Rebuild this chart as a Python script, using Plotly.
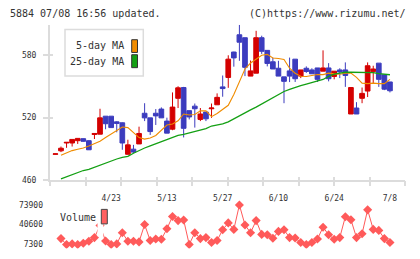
import plotly.graph_objects as go

# ---------------- data ----------------
days = list(range(61))
opens = [485.0, 488.3, 495.8, 495.8, 498.0, 499.9, 498.0, 503.9, 504.2, 521.4,
         521.4, 516.0, 515.1, 485.0, 489.9, 494.9, 524.2, 519.8, 524.2, 528.2,
         516.7, 509.0, 538.5, 548.8, 526.7, 531.0, 518.3, 525.4, 528.5, 532.3,
         549.4, 558.4, 582.7, 599.2, 596.4, 559.7, 562.5, 596.4, 584.3, 573.4,
         567.2, 559.0, 564.7, 575.9, 559.7, 567.2, 565.6, 567.5, 564.4, 567.5,
         559.4, 565.6, 565.6, 523.5, 529.2, 538.5, 545.4, 564.0, 572.1, 560.9,
         554.1]
highs = [485.6, 492.4, 496.4, 499.2, 500.2, 500.2, 498.5, 504.9, 528.5, 521.4,
         521.4, 516.5, 515.5, 498.9, 494.0, 511.4, 533.8, 519.8, 528.2, 529.8,
         520.0, 544.1, 550.0, 549.4, 526.7, 533.5, 529.2, 525.4, 533.5, 543.2,
         560.3, 579.6, 583.0, 608.6, 596.4, 574.6, 603.0, 598.3, 584.3, 577.4,
         574.3, 559.0, 577.4, 575.9, 565.6, 569.0, 567.2, 567.5, 584.3, 572.1,
         564.4, 567.2, 572.8, 548.8, 534.8, 548.8, 572.8, 569.6, 572.1, 560.9,
         554.1]
lows = [484.8, 487.1, 491.2, 492.4, 494.9, 497.0, 489.3, 499.6, 504.2, 508.9,
        510.5, 506.0, 489.3, 484.9, 486.2, 494.9, 516.7, 503.5, 513.0, 519.8,
        505.2, 508.0, 529.2, 501.1, 518.3, 510.5, 516.7, 516.7, 519.8, 532.3,
        540.0, 548.5, 568.7, 574.3, 559.7, 559.7, 562.5, 580.9, 569.0, 566.5,
        559.7, 533.8, 554.0, 554.1, 557.8, 562.8, 561.9, 554.1, 564.4, 554.7,
        556.6, 557.8, 549.4, 523.5, 523.5, 533.8, 539.7, 552.5, 549.4, 546.3,
        544.1]
closes = [485.4, 490.8, 496.4, 499.2, 500.2, 497.4, 489.3, 504.9, 519.8, 514.2,
          510.5, 514.5, 495.8, 494.0, 487.1, 504.9, 519.8, 506.7, 521.7, 519.8,
          505.2, 530.1, 548.5, 509.8, 520.7, 528.5, 523.5, 518.9, 529.2, 539.4,
          547.8, 575.9, 577.1, 592.1, 568.1, 564.7, 596.4, 583.4, 571.8, 566.5,
          559.7, 554.7, 559.7, 557.2, 565.6, 564.1, 561.9, 556.6, 567.5, 557.2,
          564.4, 563.7, 560.3, 548.8, 523.5, 543.2, 569.6, 566.5, 556.6, 547.2,
          545.7]

ma_days = list(range(1, 61))
ma5 = [484.0, 486.5, 488.5, 489.8, 491.0, 493.0, 495.0, 497.5, 501.0, 504.5,
       507.5, 511.0, 510.5, 505.8, 501.0, 499.5, 500.5, 503.0, 508.0, 513.0,
       514.0, 517.0, 523.5, 522.5, 523.0, 526.5, 526.5, 521.0, 524.0, 528.0,
       531.8, 542.2, 553.9, 566.5, 572.2, 575.6, 579.7, 580.5, 577.0, 576.6,
       575.6, 567.2, 562.5, 559.6, 559.4, 560.3, 561.2, 561.1, 562.5, 561.8,
       561.5, 562.5, 562.6, 558.5, 553.0, 552.5, 553.0, 552.5, 552.5, 556.6]
ma25 = [461.5, 463.5, 465.5, 468.0, 469.5, 470.5, 472.5, 474.5, 477.0, 478.5,
        480.5, 482.0, 483.0, 486.0, 488.7, 491.0, 493.0, 495.0, 497.0, 499.5,
        501.5, 503.0, 504.0, 505.5, 506.5, 508.0, 509.5, 512.0, 513.0, 514.0,
        516.0, 519.0, 521.5, 525.0, 527.5, 530.0, 533.0, 536.0, 539.0, 542.0,
        545.0, 547.0, 549.0, 550.5, 552.0, 553.5, 555.0, 556.5, 559.5, 561.5,
        562.5, 563.4, 563.4, 563.4, 563.4, 563.4, 563.0, 562.0, 561.5, 561.0]

vol_days = list(range(1, 61))
volume = [16800, 6800, 7800, 6800, 9000, 12300, 18500, 38900, 12800, 6800,
          7800, 26800, 12300, 12300, 11200, 40600, 13500, 16100, 15600, 33400,
          54400, 47300, 48400, 6800, 26800, 16800, 18500, 10100, 13500, 31800,
          43400, 32400, 73900, 40000, 26800, 47300, 23900, 23400, 17300, 29000,
          31800, 18500, 17900, 10100, 6800, 10100, 16100, 36100, 23400, 15600,
          18500, 53900, 48900, 18500, 25100, 65600, 32400, 30700, 16800, 10100]

date_pos = [10, 20, 30, 40, 50, 60]
date_labels = ["4/23", "5/13", "5/27", "6/10", "6/24", "7/8"]
price_ticks = [460, 520, 580]
vol_ticks = [7300, 40600, 73900]
vol_tick_labels = ["7300", "40600", "73900"]

# ---------------- style ----------------
W, H = 420, 259
FONT = "DejaVu Sans Mono"
TXT = "#333333"
AX = "#dcdcdc"
RED = "#d40000"
BLUE = "#3c3cbe"
ORANGE = "#f08c00"
GREEN = "#14a014"
VOLC = "#ff5a5a"


def px(x):
    return x / W


def py(y):
    return 1 - y / H


XR = [-0.97, 62.7]
XD = [px(50), px(405)]

fig = go.Figure()
fig.add_trace(go.Candlestick(
    x=days, open=opens, high=highs, low=lows, close=closes,
    increasing=dict(line=dict(color=RED, width=1), fillcolor=RED),
    decreasing=dict(line=dict(color=BLUE, width=1), fillcolor=BLUE),
    whiskerwidth=0, xaxis="x", yaxis="y", showlegend=False,
    hoverinfo="skip"))
fig.add_trace(go.Scatter(x=ma_days, y=ma5, mode="lines",
                         line=dict(color=ORANGE, width=1.1),
                         xaxis="x", yaxis="y", showlegend=False))
fig.add_trace(go.Scatter(x=ma_days, y=ma25, mode="lines",
                         line=dict(color=GREEN, width=1.3),
                         xaxis="x", yaxis="y", showlegend=False))
fig.add_trace(go.Scatter(x=vol_days, y=volume, mode="lines+markers",
                         line=dict(color=VOLC, width=1),
                         marker=dict(symbol="diamond", size=7, color=VOLC),
                         xaxis="x2", yaxis="y2", showlegend=False))

fig.update_layout(
    width=W, height=H, margin=dict(l=0, r=0, t=0, b=0),
    paper_bgcolor="white", plot_bgcolor="white",
    boxgap=0.16, boxgroupgap=0,
    font=dict(family=FONT, size=8, color=TXT),
    xaxis=dict(domain=XD, range=XR, anchor="y", showgrid=False, zeroline=False,
               showline=True, linecolor=AX, linewidth=2,
               tickvals=date_pos, ticktext=date_labels, ticks="",
               ticklabelstandoff=9, tickfont=dict(family=FONT, size=8, color=TXT),
               rangeslider=dict(visible=False), fixedrange=True),
    xaxis3=dict(overlaying="x", anchor="y", range=[0, 10], tickvals=list(range(11)),
                ticks="outside", ticklen=5, tickwidth=2, tickcolor=AX,
                showticklabels=False, showgrid=False, zeroline=False, showline=False),
    xaxis4=dict(overlaying="x", anchor="y", range=[0, 10], tickvals=list(range(11)),
                ticks="inside", ticklen=3, tickwidth=2, tickcolor=AX,
                showticklabels=False, showgrid=False, zeroline=False, showline=False),
    yaxis=dict(domain=[py(184), py(25)], range=[460, 609], anchor="x",
               showgrid=False, zeroline=False, showline=True, linecolor=AX,
               linewidth=2, tickvals=price_ticks, ticks="outside", ticklen=5,
               tickwidth=2, tickcolor=AX, ticklabelstandoff=5,
               tickfont=dict(family=FONT, size=8, color=TXT)),
    yaxis3=dict(overlaying="y", anchor="x", range=[460, 609], tickvals=price_ticks,
                ticks="inside", ticklen=3, tickwidth=2, tickcolor=AX,
                showticklabels=False, showgrid=False, zeroline=False, showline=False),
    xaxis2=dict(domain=XD, range=XR, anchor="y2", visible=False),
    yaxis2=dict(domain=[py(253.4), py(199.3)], range=[0, 90000], anchor="x2",
                showgrid=False, zeroline=False, showline=False, ticks="",
                tickvals=vol_ticks, ticktext=vol_tick_labels, ticklabelstandoff=6,
                tickfont=dict(family=FONT, size=8, color=TXT)),
)

# invisible traces to register overlay tick axes
fig.add_trace(go.Scatter(x=[0], y=[460], xaxis="x3", yaxis="y", mode="markers",
                         marker=dict(opacity=0), showlegend=False, hoverinfo="skip"))
fig.add_trace(go.Scatter(x=[0], y=[460], xaxis="x4", yaxis="y3", mode="markers",
                         marker=dict(opacity=0), showlegend=False, hoverinfo="skip"))

shapes = [
    # main legend box
    dict(type="rect", xref="paper", yref="paper", x0=px(65), x1=px(143.3),
         y0=py(77.5), y1=py(30), line=dict(color=AX, width=1.5), fillcolor="white",
         layer="above"),
    dict(type="rect", xref="paper", yref="paper", x0=px(131.7), x1=px(137.5),
         y0=py(53.5), y1=py(40.5), line=dict(color="#333333", width=1),
         fillcolor=ORANGE, layer="above"),
    dict(type="rect", xref="paper", yref="paper", x0=px(131.7), x1=px(137.5),
         y0=py(69), y1=py(55.8), line=dict(color="#333333", width=1),
         fillcolor=GREEN, layer="above"),
    # volume legend
    dict(type="rect", xref="paper", yref="paper", x0=px(97.5), x1=px(103.3),
         y0=py(241), y1=py(210), line=dict(width=0), fillcolor="white",
         layer="above"),
    dict(type="rect", xref="paper", yref="paper", x0=px(101.3), x1=px(107.3),
         y0=py(228.3), y1=py(213.5), line=dict(color="#444444", width=1),
         fillcolor="#ff6060", layer="above"),
]
fig.update_layout(shapes=shapes)

ann = [
    dict(text="5884 07/08 16:56 updated.", x=px(8), y=py(13.5), xanchor="left"),
    dict(text="(C)https://www.rizumu.net/", x=px(408), y=py(13.5), xanchor="right"),
    dict(text="5-day MA", x=px(125.5), y=py(46.5), xanchor="right"),
    dict(text="25-day MA", x=px(125.5), y=py(62.5), xanchor="right"),
    dict(text="Volume", x=px(57.5), y=py(221.5), xanchor="left"),
]
for a in ann:
    fig.add_annotation(xref="paper", yref="paper", showarrow=False,
                       yanchor="middle", font=dict(family=FONT, size=10, color=TXT),
                       **a)

fig.write_html("out.html")
